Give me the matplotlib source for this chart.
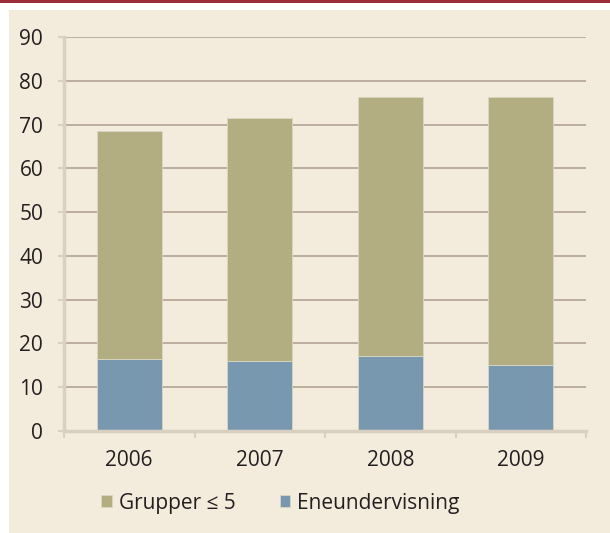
import matplotlib.pyplot as plt
from matplotlib.patches import Rectangle
import numpy as np

plt.rcParams['font.family'] = ['Open Sans', 'DejaVu Sans']

years = ["2006", "2007", "2008", "2009"]
eneundervisning = [16.4, 16.0, 17.2, 15.1]
grupper = [52.1, 55.5, 59.1, 61.2]
y_ticks = [0, 10, 20, 30, 40, 50, 60, 70, 80, 90]

bg = "#f3ecdc"
col_gr = "#b3ad82"
col_en = "#7898b0"
grid_col = "#b7a999"
spine_col = "#d9d0c0"
txt = "#231f20"

fig = plt.figure(figsize=(6.1, 5.33), dpi=100)
fig.patch.set_facecolor("white")
# red rule at top and beige panel
fig.add_artist(Rectangle((0, 1 - 3 / 533), 1, 3 / 533, transform=fig.transFigure,
                         color="#9b2d3a", lw=0))
fig.add_artist(Rectangle((9 / 610, 0), 1, 1 - 10 / 533, transform=fig.transFigure,
                         color=bg, lw=0, zorder=-10))

ax = fig.add_axes([64 / 610, 1 - 431 / 533, (586 - 64) / 610, (431 - 37) / 533])
ax.set_facecolor(bg)
ax.patch.set_alpha(0)

x = np.arange(len(years))
ax.bar(x, eneundervisning, width=0.5, color=col_en, edgecolor="#d8d6c4", lw=0.6,
       label="Eneundervisning", zorder=3)
ax.bar(x, grupper, width=0.5, bottom=eneundervisning, color=col_gr, edgecolor="#d8d6c4",
       lw=0.6, label="Grupper \u2264 5", zorder=3)

ax.set_xlim(-0.5, len(years) - 0.5)
ax.set_ylim(0, 90)
ax.set_yticks(y_ticks)
ax.set_yticklabels([str(v) for v in y_ticks], fontsize=15, color=txt)
ax.yaxis.grid(True, color=grid_col, lw=1.3, zorder=1)
ax.set_xticks(x)
ax.set_xticklabels(years, fontsize=15, color=txt)
ax.tick_params(axis="x", length=0, pad=14)
ax.tick_params(axis="y", length=4, width=1.5, color=spine_col, pad=11)
ax.set_xticks(np.arange(-0.5, len(years)), minor=True)
ax.tick_params(axis="x", which="minor", length=5, width=1.5, color=spine_col)

for s in ["top", "right"]:
    ax.spines[s].set_visible(False)
for s in ["left", "bottom"]:
    ax.spines[s].set_color(spine_col)
    ax.spines[s].set_linewidth(2.5)
    ax.spines[s].set_zorder(4)

h, l = ax.get_legend_handles_labels()
leg = fig.legend(h[::-1], l[::-1], loc="center", bbox_to_anchor=(0.46, 1 - 503 / 533),
                 ncol=2, frameon=False, fontsize=15, handlelength=0.5, handleheight=0.5,
                 handletextpad=0.35, columnspacing=2.1)
for t in leg.get_texts():
    t.set_color(txt)

fig.savefig("out.png", dpi=100, facecolor=fig.get_facecolor())
